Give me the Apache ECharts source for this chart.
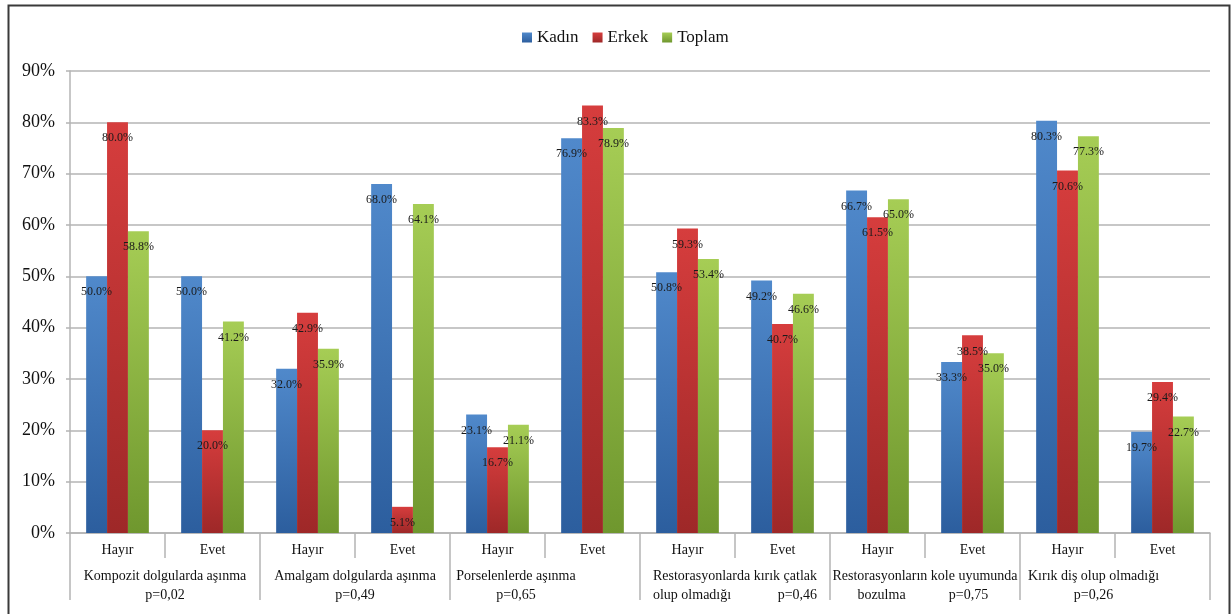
<!DOCTYPE html>
<html>
<head>
<meta charset="utf-8">
<script src="https://cdn.jsdelivr.net/npm/echarts@6/dist/echarts.min.js"></script>
<style>
  html, body { margin: 0; padding: 0; background: #fff; }
  #chart { width: 1232px; height: 614px; }
</style>
</head>
<body>
<div id="chart"></div>
<script>
// Answer categories (two per question)
const answers = ['Hayır', 'Evet', 'Hayır', 'Evet', 'Hayır', 'Evet', 'Hayır', 'Evet', 'Hayır', 'Evet', 'Hayır', 'Evet'];

// Question groups with their p-values
const groups = [
  'Kompozit dolgularda aşınma',
  'Amalgam dolgularda aşınma',
  'Porselenlerde aşınma',
  'Restorasyonlarda kırık çatlak',
  'Restorasyonların kole uyumunda',
  'Kırık diş olup olmadığı'
];
const pValues = ['p=0,02', 'p=0,49', 'p=0,65', 'p=0,46', 'p=0,75', 'p=0,26'];

// Percentages per sex
const kadin  = [50.0, 50.0, 32.0, 68.0, 23.1, 76.9, 50.8, 49.2, 66.7, 33.3, 80.3, 19.7];
const erkek  = [80.0, 20.0, 42.9,  5.1, 16.7, 83.3, 59.3, 40.7, 61.5, 38.5, 70.6, 29.4];
const toplam = [58.8, 41.2, 35.9, 64.1, 21.1, 78.9, 53.4, 46.6, 65.0, 35.0, 77.3, 22.7];

const yTicks = { min: 0, max: 90, interval: 10 };

const serif = '"Liberation Serif", "Times New Roman", serif';

// Group label text: first line is the question, second line the p-value
const groupLabels = [
  '{t|' + groups[0] + '}\n{t|' + pValues[0] + '}',
  '{t|' + groups[1] + '}\n{t|' + pValues[1] + '}',
  '{t|' + groups[2] + '}{s58| }\n{t|' + pValues[2] + '}{s58| }',
  '{t|' + groups[3] + '}\n{l|olup olmadığı}{r|' + pValues[3] + '}',
  '{t|' + groups[4] + '}\n{c|bozulma}{c|' + pValues[4] + '}',
  '{t|' + groups[5] + '}{s43| }\n{t|' + pValues[5] + '}{s43| }'
];

function grad(top, bottom) {
  return new echarts.graphic.LinearGradient(0, 0, 0, 1, [
    { offset: 0, color: top },
    { offset: 1, color: bottom }
  ]);
}

function barSeries(name, values, top, bottom) {
  return {
    name: name,
    type: 'bar',
    data: values,
    barGap: '0%',
    barCategoryGap: '34%',
    itemStyle: { color: grad(top, bottom) },
    label: {
      show: true,
      position: 'insideTop',
      distance: 10,
      formatter: p => p.value.toFixed(1) + '%',
      fontFamily: serif,
      fontSize: 12,
      color: '#1a1a1a'
    }
  };
}

const chart = echarts.init(document.getElementById('chart'), null, { renderer: 'canvas' });

chart.setOption({
  backgroundColor: '#fff',
  animation: false,
  color: ['#3f77bd', '#c63434', '#8fb842'],
  legend: {
    top: 24,
    left: 517,
    itemWidth: 10,
    itemHeight: 10,
    itemGap: 14,
    icon: 'rect',
    textStyle: { fontFamily: serif, fontSize: 17, color: '#111' },
    data: ['Kadın', 'Erkek', 'Toplam']
  },
  grid: { left: 70, right: 22, top: 71, bottom: 81, containLabel: false },
  xAxis: [
    {
      type: 'category',
      data: answers,
      position: 'bottom',
      axisLine: { lineStyle: { color: '#b4b4b4', width: 1.5 } },
      axisTick: { show: true, length: 25, lineStyle: { color: '#b4b4b4', width: 1.5 } },
      axisLabel: { fontFamily: serif, fontSize: 14, color: '#111', margin: 10 },
      splitLine: { show: false }
    },
    {
      type: 'category',
      data: groupLabels,
      position: 'bottom',
      axisLine: { show: false },
      axisTick: { show: true, length: 67, lineStyle: { color: '#b4b4b4', width: 1.5 } },
      axisLabel: {
        margin: 34,
        interval: 0,
        color: '#111',
        fontFamily: serif,
        fontSize: 14,
        lineHeight: 19,
        rich: {
          t: { fontFamily: serif, fontSize: 14, color: '#111', align: 'center', lineHeight: 19 },
          c: { fontFamily: serif, fontSize: 14, color: '#111', align: 'center', width: 87, lineHeight: 19 },
          l: { fontFamily: serif, fontSize: 14, color: '#111', align: 'left', width: 81, lineHeight: 19 },
          r: { fontFamily: serif, fontSize: 14, color: '#111', align: 'right', width: 81, lineHeight: 19 },
          s58: { fontSize: 14, align: 'center', width: 58, lineHeight: 19 },
          s43: { fontSize: 14, align: 'center', width: 43, lineHeight: 19 }
        }
      },
      splitLine: { show: false }
    }
  ],
  yAxis: {
    type: 'value',
    min: yTicks.min,
    max: yTicks.max,
    interval: yTicks.interval,
    axisLine: { show: true, lineStyle: { color: '#b4b4b4', width: 1.5 } },
    axisTick: { show: true, length: 4, lineStyle: { color: '#b4b4b4', width: 1.5 } },
    axisLabel: {
      formatter: '{value}%',
      fontFamily: serif,
      fontSize: 18,
      color: '#111',
      margin: 15
    },
    splitLine: { lineStyle: { color: '#b4b4b4', width: 1.5 } }
  },
  graphic: [
    {
      type: 'rect',
      shape: { x: 8.5, y: 5.5, width: 1221, height: 620 },
      style: { fill: 'none', stroke: '#3a3a3a', lineWidth: 2 },
      silent: true,
      z: 100
    }
  ],
  series: [
    barSeries('Kadın', kadin, '#5089cb', '#2c5e9e'),
    barSeries('Erkek', erkek, '#d63d3d', '#9e2828'),
    barSeries('Toplam', toplam, '#a6cd55', '#6f972e')
  ]
});
</script>
</body>
</html>
